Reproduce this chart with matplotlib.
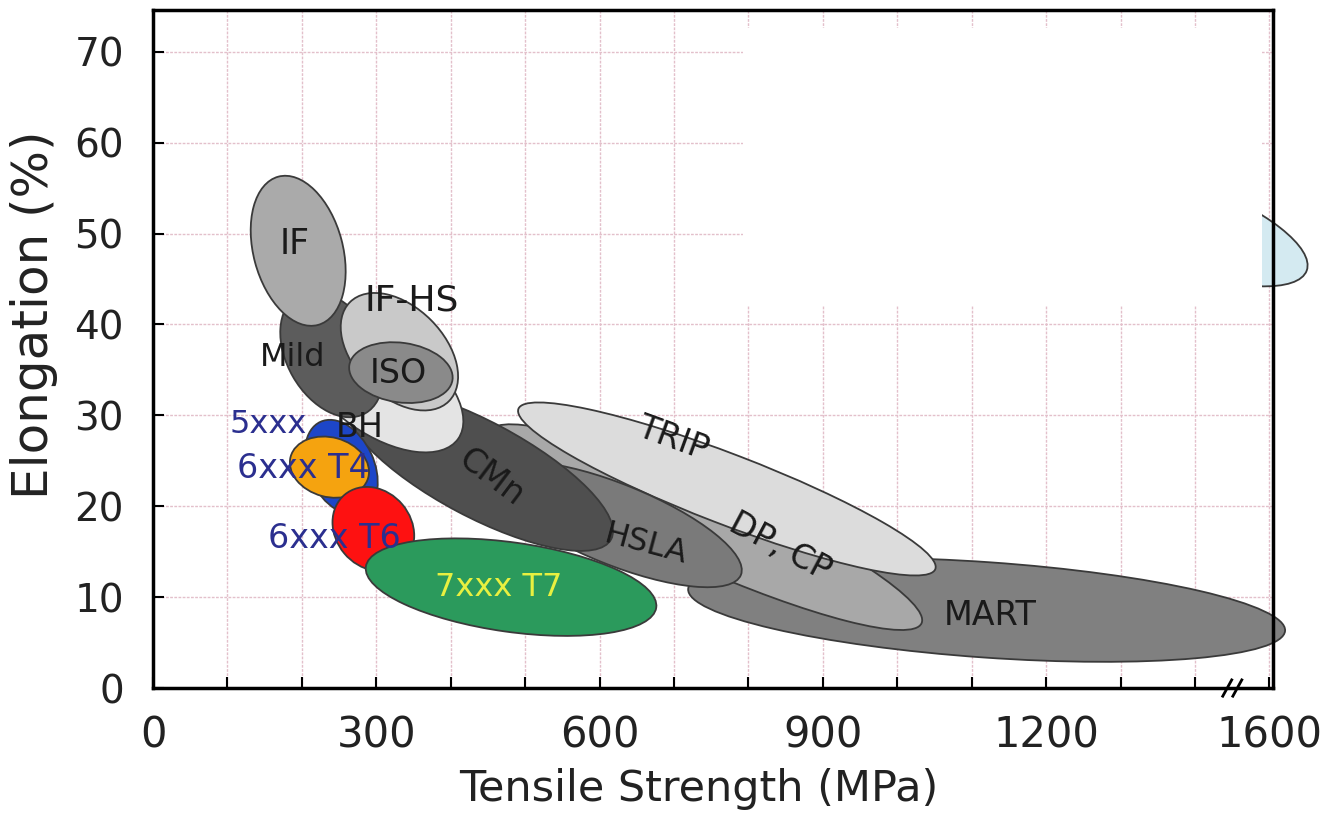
import numpy as np
import matplotlib.pyplot as plt
from matplotlib.patches import Ellipse, Rectangle
from matplotlib.transforms import Affine2D

# Families (drawing order, back to front)
names = ['MART', 'DP, CP', 'TRIP', 'HSLA', 'CMn', 'BH', 'Mild', 'IF-HS', 'ISO', 'IF',
         '5xxx', '6xxx T4', '6xxx T6', '7xxx T7', 'hidden']
# centre: tensile strength (MPa), elongation (%)
ts_c = [1120, 743, 771, 622, 438, 306, 240, 331, 333, 195, 253, 237, 296, 481, 1380]
el_c = [8.6, 17.7, 21.9, 18.0, 24.1, 33.4, 36.7, 37.0, 34.7, 48.1, 24.3, 24.3, 17.5, 11.1, 51.0]
# half axes (MPa-equivalent on chart) and tilt (deg)
semi_a = [402, 317, 300, 181, 201, 127, 91, 94, 70, 103, 67, 54, 60, 197, 181]
semi_b = [64, 54, 47, 54, 64, 67, 60, 60, 40, 60, 44, 40, 51, 60, 59]
tilt = [-4, -24, -21, -22, -28, -35, -60, -45, -8, 105, -65, -15, -50, -8, -20]
fills = ['#808080', '#a8a8a8', '#dcdcdc', '#7a7a7a', '#4f4f4f', '#e4e4e4', '#5c5c5c',
         '#c9c9c9', '#8a8a8a', '#aaaaaa', '#1d46c8', '#f5a30f', '#fe1111', '#2b9a5c', '#d4eaf1']

# label placement
lab_text = ['IF', 'IF-HS', 'Mild', 'ISO', 'BH', '5xxx', '6xxx T4', '6xxx T6', '7xxx T7',
            'CMn', 'HSLA', 'DP, CP', 'TRIP', 'MART']
lab_x = [190, 348, 187, 330, 277, 155, 202, 243, 464, 454, 662, 843, 698, 1125]
lab_y = [48.8, 42.6, 36.4, 34.6, 28.7, 29.0, 24.1, 16.4, 11.1, 23.2, 15.8, 15.5, 27.4, 8.0]
lab_rot = [0, 0, 0, 0, 0, 0, 0, 0, 0, -37, -15, -28, -20, 0]
lab_size = [25, 26, 23, 24, 24, 23, 24, 24, 23, 24, 23, 24, 24, 24]
lab_col = ['#1a1a1a'] * 5 + ['#2b2f8f'] * 3 + ['#e8f040'] + ['#1a1a1a'] * 5

x_ticks = [0, 300, 600, 900, 1200, 1500]
x_ticklabels = ['0', '300', '600', '900', '1200', '1600']
y_ticks = [0, 10, 20, 30, 40, 50, 60, 70]

plt.rcParams['font.family'] = 'DejaVu Sans'

K = 12.2  # MPa per % on the drawn chart

fig = plt.figure(figsize=(13.24, 8.25), dpi=100)
ax = fig.add_axes([0.1156, 0.166, 0.846, 0.822])
ax.set_xlim(0, 1505)
ax.set_ylim(0, 74.6)

for i in range(len(names)):
    tr = Affine2D().scale(1, 1 / K).translate(ts_c[i], el_c[i]) + ax.transData
    e = Ellipse((0, 0), 2 * semi_a[i], 2 * semi_b[i], angle=tilt[i],
                facecolor=fills[i], edgecolor='#3a3a3a', lw=1.3,
                transform=tr, zorder=3 + i, clip_on=False)
    ax.add_patch(e)

# cover box (hidden legend area)
ax.add_patch(Rectangle((0.527, 0.563), 0.463, 0.41, transform=ax.transAxes,
                       facecolor='white', edgecolor='none', zorder=30))

for t, x, y, r, s, c in zip(lab_text, lab_x, lab_y, lab_rot, lab_size, lab_col):
    ax.text(x, y, t, rotation=r, color=c, fontsize=s, ha='center', va='center',
            zorder=40)

ax.set_xticks(x_ticks)
ax.set_xticklabels(x_ticklabels)
ax.set_xticks(np.arange(100, 1500, 100), minor=True)
ax.set_yticks(y_ticks)
ax.tick_params(axis='both', which='both', direction='in', length=8, width=1.5,
               labelcolor='#222222')
ax.tick_params(axis='x', labelsize=30, pad=19)
ax.tick_params(axis='y', labelsize=28, pad=21)
ax.grid(True, which='both', color='#e3c0cb', lw=1.0, ls=(0, (2, 1)), zorder=0)
ax.set_axisbelow(True)
for s in ax.spines.values():
    s.set_linewidth(2.5)
    s.set_zorder(50)

ax.set_xlabel('Tensile Strength (MPa)', fontsize=31, color='#222222')
ax.xaxis.set_label_coords(0.4875, -0.118)
ax.set_ylabel('Elongation (%)', fontsize=36, color='#222222')
ax.yaxis.set_label_coords(-0.085, 0.55)

# axis break mark
for dx in (0, 0.009):
    ax.plot([0.955 + dx, 0.963 + dx], [-0.012, 0.012], transform=ax.transAxes,
            color='black', lw=2, clip_on=False, zorder=60)

fig.savefig('out.png', dpi=100)
